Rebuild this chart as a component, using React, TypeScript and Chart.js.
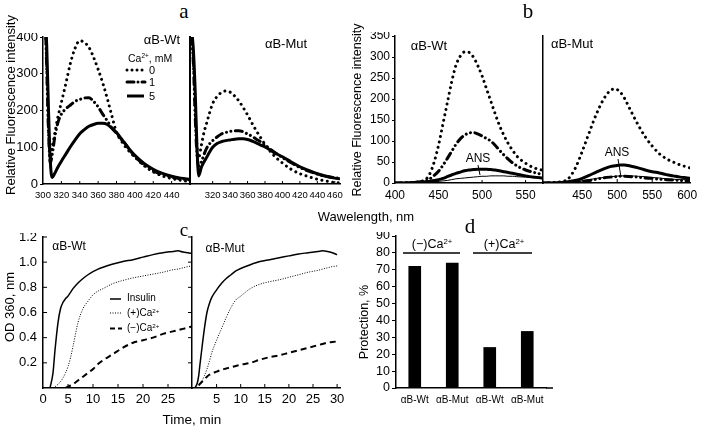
import React, { useEffect, useRef } from 'react';
import { Chart, registerables } from 'chart.js';
Chart.register(...registerables);

const FONT = "'Liberation Sans', Arial, sans-serif";
const SERIF = "'Liberation Serif', 'Times New Roman', serif";

// ---------- panel a (intrinsic fluorescence) ----------
const A_NM_WT = [303, 304, 306, 308, 310, 313, 316, 320, 325, 330, 335, 340, 345, 350, 355, 360, 365, 370, 375, 380, 385, 390, 395, 400, 410, 420, 430, 440, 450, 460];
const A_WT_CA0 = [410, 330, 150, 72, 100, 140, 180, 222, 275, 330, 370, 390, 385, 372, 345, 312, 275, 232, 185, 140, 118, 100, 86, 73, 50, 33, 22, 15, 10, 6];
const A_WT_CA1 = [400, 320, 140, 58, 80, 130, 165, 190, 205, 215, 225, 230, 234, 235, 225, 210, 190, 172, 152, 138, 122, 108, 90, 75, 52, 36, 26, 19, 14, 11];
const A_WT_CA5 = [420, 380, 200, 60, 18, 30, 45, 62, 82, 102, 120, 137, 148, 157, 162, 165, 165, 162, 152, 140, 124, 108, 92, 78, 56, 40, 29, 21, 16, 13];
const A_NM_MUT = [296, 298, 300, 302, 304, 307, 310, 313, 316, 320, 325, 330, 335, 340, 345, 350, 355, 360, 365, 370, 375, 380, 390, 400, 410, 420, 430, 440, 450, 460, 466];
const A_MUT_CA0 = [410, 330, 200, 100, 72, 105, 140, 165, 190, 219, 238, 249, 253, 250, 240, 226, 208, 188, 166, 145, 126, 108, 78, 57, 40, 28, 20, 13, 8, 4, 3];
const A_MUT_CA1 = [400, 320, 180, 80, 48, 60, 80, 97, 108, 118, 128, 136, 140, 143, 145, 145, 142, 136, 130, 122, 115, 106, 88, 72, 58, 45, 35, 27, 21, 17, 15];
const A_MUT_CA5 = [420, 360, 250, 100, 22, 45, 60, 72, 85, 100, 110, 115, 118, 120, 122, 123, 123, 121, 117, 112, 106, 101, 86, 74, 60, 47, 37, 28, 21, 16, 14];
const A_Y_TICKS = [0, 100, 200, 300, 400];
const A_WT_X_LABELS = [300, 320, 340, 360, 380, 400, 420, 440];
const A_WT_X_MARKS = [320, 340, 360, 380, 400, 420, 440, 460];
const A_MUT_X_LABELS = [320, 340, 360, 380, 400, 420, 440, 460];

// ---------- panel b (ANS fluorescence) ----------
const B_NM_WT = [400, 420, 430, 435, 440, 445, 450, 455, 460, 465, 470, 475, 480, 485, 490, 495, 500, 505, 510, 515, 520, 525, 530, 535, 540, 550, 560, 570];
const B_WT_CA0 = [0, 1, 4, 8, 22, 50, 90, 140, 190, 240, 280, 302, 312, 311, 300, 280, 255, 225, 195, 165, 137, 114, 94, 78, 64, 47, 36, 30];
const B_WT_CA1 = [0, 1, 3, 5, 10, 18, 28, 42, 58, 75, 92, 105, 114, 119, 120, 117, 112, 106, 100, 90, 78, 67, 57, 48, 41, 31, 25, 20];
const B_WT_CA5 = [0, 1, 2, 3, 4, 6, 8, 11, 15, 19, 23, 26, 29, 31, 32, 33, 33, 33, 32, 31, 29, 27, 25, 23, 21, 17, 14, 12];
const B_WT_ANS = [0, 0, 1, 1, 2, 3, 4, 5, 6, 8, 10, 11, 12, 13, 14, 15, 16, 16, 17, 17, 17, 17, 16, 16, 15, 14, 12, 11];
const B_NM_MUT = [394, 420, 430, 440, 450, 460, 470, 480, 490, 497, 505, 510, 520, 530, 540, 550, 560, 570, 580, 590, 600, 604];
const B_MUT_CA0 = [0, 3, 10, 35, 75, 120, 163, 198, 220, 224, 215, 203, 170, 138, 110, 88, 70, 58, 50, 43, 38, 36];
const B_MUT_CA5 = [0, 1, 3, 6, 11, 18, 26, 33, 39, 41, 43, 43, 40, 36, 31, 27, 24, 20, 17, 14, 12, 11];
const B_MUT_CA1 = [0, 0, 1, 2, 4, 6, 9, 12, 14, 15, 16, 16, 15, 14, 12, 11, 9, 8, 7, 6, 5, 5];
const B_MUT_ANS = [0, 0, 1, 3, 5, 8, 11, 13, 15, 16, 17, 17, 17, 16, 15, 13, 12, 10, 9, 8, 8, 8];
const B_Y_TICKS = [0, 50, 100, 150, 200, 250, 300, 350];
const B_WT_X_LABELS = [400, 450, 500, 550];
const B_MUT_X_LABELS = [450, 500, 550, 600];

// ---------- panel c (insulin aggregation) ----------
const C_T_WT = [0, 1.4, 2, 2.4, 3, 3.5, 4, 4.5, 5, 5.5, 6, 7, 8, 9, 10, 11, 12, 14, 16, 18, 20, 22, 24, 26, 27, 28, 29, 29.8];
const C_WT_INSULIN = [null, 0, 0.12, 0.3, 0.52, 0.63, 0.68, 0.71, 0.73, 0.76, 0.79, 0.835, 0.87, 0.9, 0.925, 0.945, 0.96, 0.985, 1.005, 1.02, 1.04, 1.06, 1.075, 1.085, 1.09, 1.08, 1.075, 1.07];
const C_WT_PLUS = [null, null, null, 0.01, 0.03, 0.05, 0.08, 0.12, 0.17, 0.24, 0.33, 0.52, 0.63, 0.69, 0.74, 0.77, 0.79, 0.83, 0.855, 0.875, 0.89, 0.905, 0.92, 0.94, 0.945, 0.955, 0.965, 0.97];
const C_WT_MINUS = [null, null, null, null, null, null, null, 0, 0.01, 0.02, 0.03, 0.06, 0.09, 0.12, 0.15, 0.19, 0.22, 0.27, 0.32, 0.36, 0.38, 0.4, 0.43, 0.45, 0.46, 0.47, 0.48, 0.49];
const C_T_MUT = [0.5, 1, 1.3, 1.5, 2, 2.5, 3, 3.5, 4, 5, 6, 7, 8, 9, 10, 12, 14, 16, 18, 20, 22, 24, 26, 27, 28, 29, 30];
const C_MUT_INSULIN = [0, 0.04, 0.1, 0.17, 0.33, 0.48, 0.6, 0.67, 0.72, 0.78, 0.83, 0.87, 0.9, 0.93, 0.95, 0.98, 1.005, 1.02, 1.035, 1.05, 1.065, 1.075, 1.085, 1.09, 1.085, 1.075, 1.06];
const C_MUT_PLUS = [null, null, 0.03, 0.04, 0.06, 0.1, 0.15, 0.21, 0.28, 0.38, 0.47, 0.56, 0.64, 0.7, 0.73, 0.79, 0.825, 0.845, 0.86, 0.88, 0.9, 0.92, 0.935, 0.945, 0.955, 0.965, 0.97];
const C_MUT_MINUS = [null, null, 0.02, 0.03, 0.05, 0.07, 0.09, 0.105, 0.115, 0.13, 0.145, 0.155, 0.165, 0.175, 0.185, 0.2, 0.225, 0.245, 0.26, 0.28, 0.3, 0.32, 0.34, 0.35, 0.36, 0.365, 0.37];
const C_Y_TICKS = [0.2, 0.4, 0.6, 0.8, 1.0, 1.2];
const C_WT_X_LABELS = [0, 5, 10, 15, 20, 25];
const C_MUT_X_LABELS = [5, 10, 15, 20, 25, 30];

// ---------- panel d (protection) ----------
const D_LABELS = ['αB-Wt', 'αB-Mut', 'αB-Wt', 'αB-Mut'];
const D_VALUES = [72, 74, 24, 33.5];
const D_Y_TICKS = [0, 10, 20, 30, 40, 50, 60, 70, 80, 90];

// ---------- styles ----------
const DOT_HEAVY = { borderWidth: 3, borderDash: [0.01, 5.5], borderCapStyle: 'round' };
const DASHDOT_HEAVY = { borderWidth: 3, borderDash: [7, 4.5, 0.01, 4.5, 0.01, 4.5], borderCapStyle: 'round' };
const SOLID_HEAVY = { borderWidth: 3 };
const SOLID_THIN = { borderWidth: 1 };
const C_SOLID = { borderWidth: 1.5 };
const C_DOT = { borderWidth: 1, borderDash: [1, 1.5] };
const C_DASH = { borderWidth: 2, borderDash: [6, 4] };

const decoPlugin = {
  id: 'deco',
  afterDraw(chart: any, _args: any, o: any) {
    const ctx = chart.ctx;
    const ca = chart.chartArea;
    ctx.save();
    ctx.strokeStyle = '#000';
    ctx.lineWidth = 1;
    const seg = (x1: number, y1: number, x2: number, y2: number) => {
      ctx.beginPath(); ctx.moveTo(x1, y1); ctx.lineTo(x2, y2); ctx.stroke();
    };
    if (o.xIn) {
      const s = chart.scales.x;
      o.xIn.values.forEach((v: number) => { const p = s.getPixelForValue(v); seg(p, ca.bottom, p, ca.bottom - o.xIn.len); });
    }
    if (o.yIn) {
      const s = chart.scales.y;
      o.yIn.values.forEach((v: number) => { const p = s.getPixelForValue(v); seg(ca.left, p, ca.left + o.yIn.len, p); });
    }
    if (o.yInR) {
      const s = chart.scales.y;
      o.yInR.values.forEach((v: number) => { const p = s.getPixelForValue(v); seg(ca.right, p, ca.right - o.yInR.len, p); });
    }
    (o.lines || []).forEach((L: any) => {
      ctx.save();
      ctx.lineWidth = L.w || 1;
      ctx.setLineDash(L.dash || []);
      ctx.lineCap = L.cap || 'butt';
      seg(L.x1 - o.ox, L.y1 - o.oy, L.x2 - o.ox, L.y2 - o.oy);
      ctx.restore();
    });
    ctx.restore();
  },
};

function line(xs: number[], ys: (number | null)[], style: any) {
  return {
    data: xs.map((x, i) => ({ x, y: ys[i] })),
    borderColor: '#000', backgroundColor: '#000', pointRadius: 0, fill: false,
    cubicInterpolationMode: 'monotone', spanGaps: false, ...style,
  };
}

function xLin(min: number, max: number, labels: number[], size: number, pad: number, mb: number) {
  return {
    type: 'linear', min, max,
    afterBuildTicks: (s: any) => { s.ticks = labels.map((v) => ({ value: v })); },
    afterFit: (s: any) => { s.height = mb; s.paddingLeft = 0; s.paddingRight = 0; },
    ticks: { autoSkip: false, maxRotation: 0, minRotation: 0, padding: pad, color: '#000', font: { family: FONT, size }, callback: (v: any) => String(v) },
    grid: { display: false, drawTicks: false },
    border: { display: true, color: '#000', width: 1.5 },
  };
}

function yLin(min: number, max: number, ticks: number[], ml: number, o: any) {
  const tl = o.tickLen || 0;
  return {
    type: 'linear', min, max,
    afterBuildTicks: (s: any) => { s.ticks = ticks.map((v) => ({ value: v })); },
    afterFit: (s: any) => { s.width = ml; s.paddingTop = 0; s.paddingBottom = 0; },
    ticks: { display: o.labels !== false, autoSkip: false, padding: o.pad || 2, color: '#000', font: { family: FONT, size: o.size || 12 }, callback: o.fmt || ((v: any) => String(v)) },
    grid: { display: tl > 0, drawOnChartArea: false, drawTicks: tl > 0, tickLength: tl, color: '#000', lineWidth: 1 },
    border: { display: true, color: '#000', width: o.bw || 1.5 },
  };
}

function baseOpts(box: any, scales: any, deco: any) {
  return {
    responsive: false, animation: false, devicePixelRatio: 1, events: [],
    layout: { padding: { left: 0, top: box.pt, right: box.pr, bottom: 0 } },
    plugins: { legend: { display: false }, tooltip: { enabled: false }, deco: { ox: box.l - box.ml, oy: box.t - box.pt, ...deco } },
    scales,
  };
}

const PANELS: any[] = [
  {
    box: { l: 43, t: 37, r: 190, b: 184, ml: 40, pt: 4, pr: 2, mb: 20 },
    build: (box: any) => ({
      type: 'line',
      data: { datasets: [line(A_NM_WT, A_WT_CA0, DOT_HEAVY), line(A_NM_WT, A_WT_CA1, DASHDOT_HEAVY), line(A_NM_WT, A_WT_CA5, SOLID_HEAVY)] },
      options: baseOpts(box, {
        x: xLin(300, 460, A_WT_X_LABELS, 9.5, 6, box.mb),
        y: yLin(0, 400, A_Y_TICKS, box.ml, { tickLen: 3, pad: 2, size: 13 }),
      }, {
        xIn: { values: A_WT_X_MARKS, len: 3 },
        lines: [
          { x1: 127, y1: 70, x2: 143, y2: 70, w: 3, dash: [0.01, 5], cap: 'round' },
          { x1: 127, y1: 82, x2: 145, y2: 82, w: 3, dash: [7, 4, 0.01, 4], cap: 'round' },
          { x1: 127, y1: 96, x2: 144, y2: 96, w: 3 },
        ],
      }),
    }),
  },
  {
    box: { l: 190, t: 37, r: 340, b: 184, ml: 2, pt: 4, pr: 12, mb: 20 },
    build: (box: any) => ({
      type: 'line',
      data: { datasets: [line(A_NM_MUT, A_MUT_CA0, DOT_HEAVY), line(A_NM_MUT, A_MUT_CA1, DASHDOT_HEAVY), line(A_NM_MUT, A_MUT_CA5, SOLID_HEAVY)] },
      options: baseOpts(box, {
        x: xLin(294, 466, A_MUT_X_LABELS, 9.5, 6, box.mb),
        y: yLin(0, 400, A_Y_TICKS, box.ml, { labels: false, bw: 2 }),
      }, { xIn: { values: A_MUT_X_LABELS, len: 3 } }),
    }),
  },
  {
    box: { l: 395, t: 36, r: 543, b: 183, ml: 36, pt: 4, pr: 2, mb: 20 },
    build: (box: any) => ({
      type: 'line',
      data: { datasets: [line(B_NM_WT, B_WT_CA0, DOT_HEAVY), line(B_NM_WT, B_WT_CA1, DASHDOT_HEAVY), line(B_NM_WT, B_WT_CA5, SOLID_HEAVY), line(B_NM_WT, B_WT_ANS, SOLID_THIN)] },
      options: baseOpts(box, {
        x: xLin(400, 570, B_WT_X_LABELS, 12, 5, box.mb),
        y: yLin(0, 350, B_Y_TICKS, box.ml, { tickLen: 3, pad: 2, size: 12 }),
      }, {
        xIn: { values: [450, 500, 550], len: 3 },
        lines: [{ x1: 478, y1: 165, x2: 480, y2: 175, w: 1 }],
      }),
    }),
  },
  {
    box: { l: 543, t: 36, r: 690, b: 183, ml: 2, pt: 4, pr: 14, mb: 20 },
    build: (box: any) => ({
      type: 'line',
      data: { datasets: [line(B_NM_MUT, B_MUT_CA0, DOT_HEAVY), line(B_NM_MUT, B_MUT_CA1, DASHDOT_HEAVY), line(B_NM_MUT, B_MUT_CA5, SOLID_HEAVY), line(B_NM_MUT, B_MUT_ANS, SOLID_THIN)] },
      options: baseOpts(box, {
        x: xLin(394, 604, B_MUT_X_LABELS, 12, 5, box.mb),
        y: yLin(0, 350, B_Y_TICKS, box.ml, { labels: false, bw: 1.5 }),
      }, {
        xIn: { values: [450, 500, 550], len: 4 },
        lines: [{ x1: 618, y1: 159, x2: 621, y2: 177, w: 1 }],
      }),
    }),
  },
  {
    box: { l: 43, t: 237, r: 192, b: 388, ml: 40, pt: 4, pr: 2, mb: 22 },
    build: (box: any) => ({
      type: 'line',
      data: { datasets: [line(C_T_WT, C_WT_INSULIN, C_SOLID), line(C_T_WT, C_WT_PLUS, C_DOT), line(C_T_WT, C_WT_MINUS, C_DASH)] },
      options: baseOpts(box, {
        x: xLin(0, 29.8, C_WT_X_LABELS, 13, 4, box.mb),
        y: yLin(0, 1.2, C_Y_TICKS, box.ml, { pad: 6, size: 13, fmt: (v: any) => Number(v).toFixed(1) }),
      }, {
        xIn: { values: [5, 10, 15, 20, 25], len: 4 },
        yIn: { values: C_Y_TICKS, len: 4 },
        yInR: { values: C_Y_TICKS, len: 4 },
        lines: [
          { x1: 110, y1: 299, x2: 121, y2: 299, w: 1.5 },
          { x1: 110, y1: 313, x2: 121, y2: 313, w: 1, dash: [1, 1.5] },
          { x1: 110, y1: 328.5, x2: 122, y2: 328.5, w: 2, dash: [5, 3] },
        ],
      }),
    }),
  },
  {
    box: { l: 192, t: 237, r: 340, b: 388, ml: 2, pt: 4, pr: 12, mb: 22 },
    build: (box: any) => ({
      type: 'line',
      data: { datasets: [line(C_T_MUT, C_MUT_INSULIN, C_SOLID), line(C_T_MUT, C_MUT_PLUS, C_DOT), line(C_T_MUT, C_MUT_MINUS, C_DASH)] },
      options: baseOpts(box, {
        x: xLin(-0.1, 30.6, C_MUT_X_LABELS, 13, 4, box.mb),
        y: yLin(0, 1.2, C_Y_TICKS, box.ml, { labels: false, bw: 1.5 }),
      }, { xIn: { values: C_MUT_X_LABELS, len: 4 } }),
    }),
  },
  {
    box: { l: 396, t: 236, r: 546, b: 388, ml: 36, pt: 4, pr: 14, mb: 20 },
    build: (box: any) => ({
      type: 'bar',
      data: { labels: D_LABELS, datasets: [{ data: D_VALUES, backgroundColor: '#000', borderWidth: 0, barThickness: 12 }] },
      options: baseOpts(box, {
        x: {
          type: 'category', offset: true,
          afterFit: (s: any) => { s.height = box.mb; s.paddingLeft = 0; s.paddingRight = 0; },
          ticks: { autoSkip: false, maxRotation: 0, minRotation: 0, padding: 6, color: '#000', font: { family: FONT, size: 10 } },
          grid: { display: false, drawTicks: false },
          border: { display: true, color: '#000', width: 1.5 },
        },
        y: yLin(0, 90, D_Y_TICKS, box.ml, { tickLen: 4, pad: 2, size: 12.5 }),
      }, {
        lines: [
          { x1: 546, y1: 388, x2: 553, y2: 388, w: 1.5 },
          { x1: 403, y1: 253, x2: 460, y2: 253, w: 1.5 },
          { x1: 473, y1: 253, x2: 532, y2: 253, w: 1.5 },
        ],
      }),
    }),
  },
];

function rectOf(b: any) {
  return { left: b.l - b.ml, top: b.t - b.pt, width: b.r - b.l + b.ml + b.pr, height: b.b - b.t + b.pt + b.mb };
}

const Sup = ({ children }: any) => <sup style={{ fontSize: '0.62em', verticalAlign: '0.55em', lineHeight: 0 }}>{children}</sup>;

type T = { x: number; y: number; s: number; c: any; rot?: boolean; serif?: boolean; left?: boolean };
const TEXTS: T[] = [
  { x: 184, y: 11, s: 21, c: 'a', serif: true },
  { x: 528, y: 11, s: 21, c: 'b', serif: true },
  { x: 184, y: 229, s: 19, c: 'c', serif: true },
  { x: 470, y: 226, s: 21, c: 'd', serif: true },
  { x: 10, y: 105, s: 13, c: 'Relative Fluorescence intensity', rot: true },
  { x: 357, y: 110, s: 12.5, c: 'Relative Fluorescence intensity', rot: true },
  { x: 366, y: 216, s: 13, c: 'Wawelength, nm' },
  { x: 192, y: 420, s: 13.5, c: 'Time, min' },
  { x: 9, y: 307, s: 13, c: 'OD 360, nm', rot: true },
  { x: 364, y: 322, s: 12.5, c: 'Protection, %', rot: true },
  { x: 162, y: 39, s: 13, c: 'αB-Wt' },
  { x: 128, y: 58, s: 10.5, c: <>Ca<Sup>2+</Sup>, mM</>, left: true },
  { x: 149, y: 70, s: 11, c: '0', left: true },
  { x: 149, y: 82, s: 11, c: '1', left: true },
  { x: 149, y: 96, s: 11, c: '5', left: true },
  { x: 286, y: 43, s: 13, c: 'αB-Mut' },
  { x: 429, y: 45, s: 13, c: 'αB-Wt' },
  { x: 572, y: 43, s: 13, c: 'αB-Mut' },
  { x: 478, y: 158, s: 12, c: 'ANS' },
  { x: 617, y: 152, s: 12, c: 'ANS' },
  { x: 69, y: 246, s: 12, c: 'αB-Wt' },
  { x: 225, y: 248, s: 12, c: 'αB-Mut' },
  { x: 127, y: 298, s: 10, c: 'Insulin', left: true },
  { x: 127, y: 313, s: 10, c: <>(+)Ca<Sup>2+</Sup></>, left: true },
  { x: 127, y: 328, s: 10, c: <>(−)Ca<Sup>2+</Sup></>, left: true },
  { x: 432, y: 244, s: 12.5, c: <>(−)Ca<Sup>2+</Sup></> },
  { x: 504, y: 244, s: 12.5, c: <>(+)Ca<Sup>2+</Sup></> },
];

export default function App() {
  const refs = useRef<(HTMLCanvasElement | null)[]>([]);
  useEffect(() => {
    const charts = PANELS.map((p, i) => {
      const cfg: any = p.build(p.box);
      cfg.plugins = [decoPlugin];
      return new Chart(refs.current[i] as HTMLCanvasElement, cfg);
    });
    return () => charts.forEach((c) => c.destroy());
  }, []);
  return (
    <div style={{ position: 'absolute', left: 0, top: 0, width: 705, height: 428, background: '#fff', overflow: 'hidden', fontFamily: FONT, color: '#000' }}>
      {PANELS.map((p, i) => {
        const r = rectOf(p.box);
        return (
          <canvas key={i} ref={(el) => { refs.current[i] = el; }} width={r.width} height={r.height}
            style={{ position: 'absolute', left: r.left, top: r.top, width: r.width, height: r.height }} />
        );
      })}
      {TEXTS.map((t, i) => (
        <div key={'t' + i} style={{
          position: 'absolute', left: t.x, top: t.y, whiteSpace: 'nowrap', lineHeight: 1,
          fontSize: t.s, fontFamily: t.serif ? SERIF : FONT,
          transform: t.rot ? 'translate(-50%,-50%) rotate(-90deg)' : t.left ? 'translate(0,-50%)' : 'translate(-50%,-50%)',
        }}>{t.c}</div>
      ))}
    </div>
  );
}
